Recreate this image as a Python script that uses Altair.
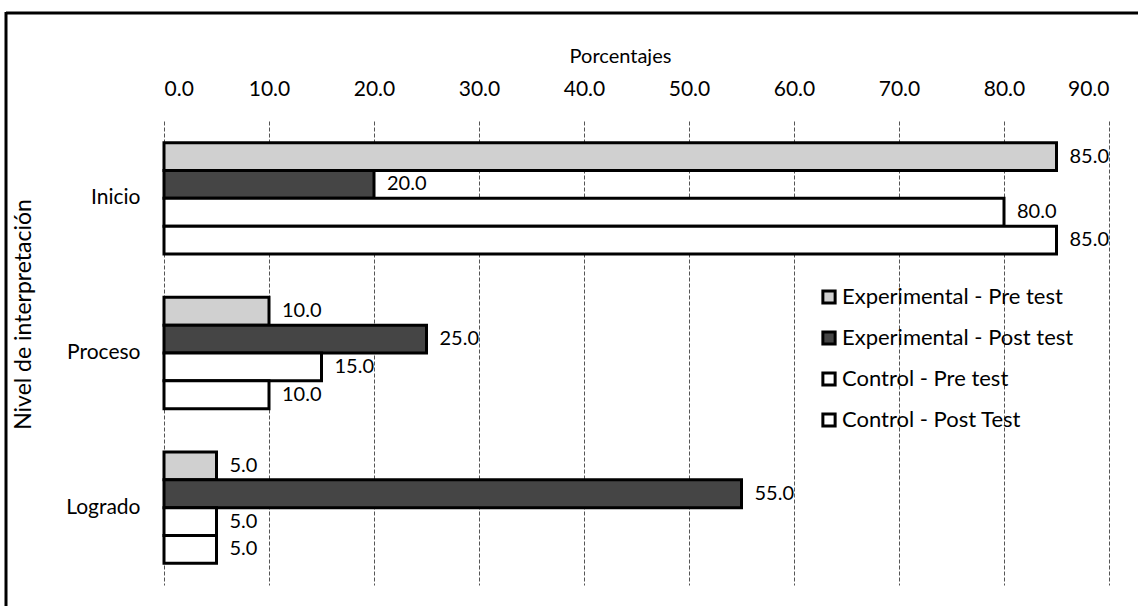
import altair as alt
import pandas as pd

categories = ["Inicio", "Proceso", "Logrado"]
series = ["Experimental - Pre test", "Experimental - Post test",
          "Control - Pre test", "Control - Post Test"]
exp_pre = [85.0, 10.0, 5.0]
exp_post = [20.0, 25.0, 55.0]
ctrl_pre = [80.0, 15.0, 5.0]
ctrl_post = [85.0, 10.0, 5.0]
colors = ["#d0d0d0", "#454545", "#ffffff", "#ffffff"]
x_ticks = [0, 10, 20, 30, 40, 50, 60, 70, 80, 90]

rows = []
for s, vals in zip(series, [exp_pre, exp_post, ctrl_pre, ctrl_post]):
    for c, v in zip(categories, vals):
        rows.append({"Nivel": c, "Serie": s, "Porcentaje": v})
df = pd.DataFrame(rows)

FONT = "Lato"

y_enc = alt.Y(
    "Nivel:N", sort=categories,
    scale=alt.Scale(paddingInner=0.28, paddingOuter=0.14),
    axis=alt.Axis(title="Nivel de interpretación", domain=False, ticks=False,
                  labelFontSize=21, labelPadding=24, labelColor="black",
                  titleFontSize=23, titleFontWeight="normal", titleColor="black",
                  titleX=-129, titleY=193, titleAngle=270, titleBaseline="bottom",
                  grid=False),
)
yoff_enc = alt.YOffset("Serie:N", sort=series,
                       scale=alt.Scale(paddingInner=0, paddingOuter=0))
x_enc = alt.X(
    "Porcentaje:Q",
    scale=alt.Scale(domain=[0, 90], nice=False),
    axis=alt.Axis(orient="top", title="Porcentajes", values=x_ticks, format=".1f",
                  domain=False, ticks=False, labelFontSize=21, labelPadding=22,
                  labelColor="black", titleFontSize=20, titleFontWeight="normal",
                  titleColor="black", titlePadding=12, titleX=456,
                  grid=True, gridDash=[4, 2], gridColor="#555555", gridWidth=1),
)

base = alt.Chart(df)

bars = base.mark_bar(stroke="black", strokeWidth=3).encode(
    y=y_enc, yOffset=yoff_enc, x=x_enc,
    color=alt.Color(
        "Serie:N", sort=series,
        scale=alt.Scale(domain=series, range=colors),
        legend=alt.Legend(title=None, orient="none", legendX=654, legendY=165,
                          symbolType="square", symbolSize=150,
                          symbolStrokeColor="black", symbolStrokeWidth=3,
                          labelFontSize=22, labelColor="black", rowPadding=15,
                          labelOffset=2, padding=0, labelLimit=400),
    ),
)

labels = base.mark_text(align="left", baseline="middle", dx=13, fontSize=20,
                        font=FONT, color="black").encode(
    y=alt.Y("Nivel:N", sort=categories), yOffset=alt.YOffset("Serie:N", sort=series),
    x=alt.X("Porcentaje:Q"),
    text=alt.Text("Porcentaje:Q", format=".1f"),
)

frame_df = pd.DataFrame({"k": [0]})
top_border = alt.Chart(frame_df).mark_rule(color="black", strokeWidth=3).encode(
    x=alt.value(-158), x2=alt.value(974), y=alt.value(-108))
left_border = alt.Chart(frame_df).mark_rule(color="black", strokeWidth=3).encode(
    x=alt.value(-158), y=alt.value(-109), y2=alt.value(486))

chart = alt.layer(bars, labels, top_border, left_border).properties(
    width=945, height=464,
    autosize=alt.AutoSizeParams(type="none"),
    padding={"left": 164, "top": 121, "right": 29, "bottom": 21},
    background="white",
).configure(font=FONT).configure_view(stroke=None)

chart.save("out.html", embed_options={"renderer": "svg", "actions": False})
